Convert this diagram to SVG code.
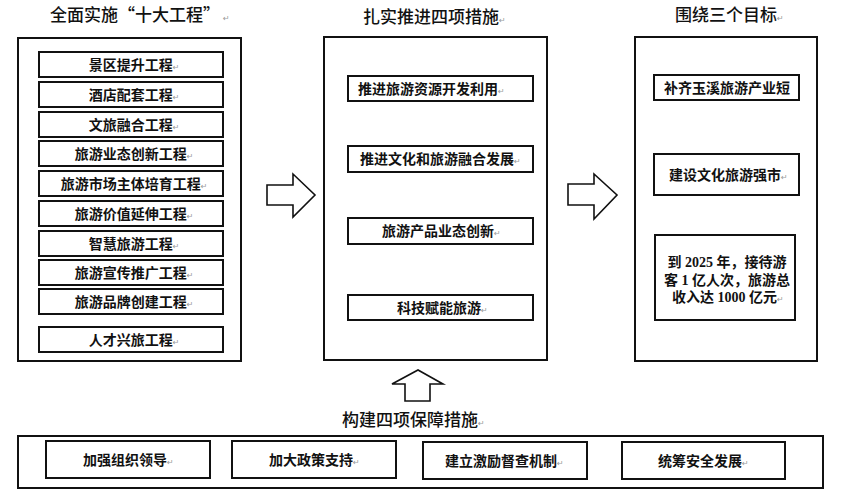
<svg xmlns="http://www.w3.org/2000/svg" width="843" height="496" viewBox="0 0 843 496">
<style>
.bg{fill:#fff}
.outer{fill:#fff;stroke:#111;stroke-width:2}
.inner{fill:#fff;stroke:#111;stroke-width:2}
.title{font-family:"Noto Sans CJK SC","Noto Sans CJK JP",sans-serif;font-size:17px;font-weight:500;fill:#111}
.t{font-family:"Liberation Serif","Noto Sans CJK SC",serif;font-size:14px;font-weight:bold;fill:#111}
.rm{font-family:"DejaVu Sans",sans-serif;font-size:8px;font-weight:normal;fill:#999}
.arrow{fill:#fff;stroke:#111;stroke-width:1.6;stroke-linejoin:miter}
</style>
<rect class="bg" x="0" y="0" width="843" height="496"/>

<g id="col-left">
  <text class="title" x="50" y="21">全面实施“十大工程”<tspan class="rm" dx="3">↵</tspan></text>
  <rect class="outer" x="18" y="38" width="223" height="323"/>
  <g id="l1"><rect class="inner" x="39" y="52" width="184" height="25"/><text class="t" x="134" y="70" text-anchor="middle">景区提升工程<tspan class="rm">↵</tspan></text></g>
  <g id="l2"><rect class="inner" x="39" y="82" width="184" height="25"/><text class="t" x="134" y="100" text-anchor="middle">酒店配套工程<tspan class="rm">↵</tspan></text></g>
  <g id="l3"><rect class="inner" x="39" y="112" width="184" height="25"/><text class="t" x="134" y="130" text-anchor="middle">文旅融合工程<tspan class="rm">↵</tspan></text></g>
  <g id="l4"><rect class="inner" x="39" y="141" width="184" height="25"/><text class="t" x="134" y="159" text-anchor="middle">旅游业态创新工程<tspan class="rm">↵</tspan></text></g>
  <g id="l5"><rect class="inner" x="39" y="171" width="184" height="25"/><text class="t" x="134" y="189" text-anchor="middle">旅游市场主体培育工程<tspan class="rm">↵</tspan></text></g>
  <g id="l6"><rect class="inner" x="39" y="201" width="184" height="25"/><text class="t" x="134" y="219" text-anchor="middle">旅游价值延伸工程<tspan class="rm">↵</tspan></text></g>
  <g id="l7"><rect class="inner" x="39" y="231" width="184" height="25"/><text class="t" x="134" y="249" text-anchor="middle">智慧旅游工程<tspan class="rm">↵</tspan></text></g>
  <g id="l8"><rect class="inner" x="39" y="260" width="184" height="25"/><text class="t" x="134" y="278" text-anchor="middle">旅游宣传推广工程<tspan class="rm">↵</tspan></text></g>
  <g id="l9"><rect class="inner" x="39" y="289" width="184" height="25"/><text class="t" x="134" y="307" text-anchor="middle">旅游品牌创建工程<tspan class="rm">↵</tspan></text></g>
  <g id="l10"><rect class="inner" x="39" y="327" width="184" height="25"/><text class="t" x="134" y="345" text-anchor="middle">人才兴旅工程<tspan class="rm">↵</tspan></text></g>
</g>

<g id="col-mid">
  <text class="title" x="363" y="23">扎实推进四项措施<tspan class="rm">↵</tspan></text>
  <rect class="outer" x="324" y="37" width="223" height="323"/>
  <g id="m1"><rect class="inner" x="348" y="76" width="185" height="25"/><text class="t" x="358" y="94">推进旅游资源开发利用<tspan class="rm">↵</tspan></text></g>
  <g id="m2"><rect class="inner" x="348" y="146" width="185" height="26"/><text class="t" x="360" y="164">推进文化和旅游融合发展<tspan class="rm">↵</tspan></text></g>
  <g id="m3"><rect class="inner" x="348" y="218" width="185" height="26"/><text class="t" x="382" y="236">旅游产品业态创新<tspan class="rm">↵</tspan></text></g>
  <g id="m4"><rect class="inner" x="348" y="295" width="185" height="25"/><text class="t" x="397" y="313">科技赋能旅游<tspan class="rm">↵</tspan></text></g>
</g>

<g id="col-right">
  <text class="title" x="675" y="21">围绕三个目标<tspan class="rm">↵</tspan></text>
  <rect class="outer" x="635" y="37" width="182" height="324"/>
  <g id="r1"><rect class="inner" x="654" y="75" width="145" height="25"/><text class="t" x="664" y="93">补齐玉溪旅游产业短</text></g>
  <g id="r2"><rect class="inner" x="654" y="154" width="145" height="41"/><text class="t" x="669" y="180">建设文化旅游强市<tspan class="rm">↵</tspan></text></g>
  <g id="r3"><rect class="inner" x="655" y="235" width="140" height="85"/>
    <text class="t" x="727" y="267" text-anchor="middle">到 2025 年，接待游</text>
    <text class="t" x="727" y="285" text-anchor="middle">客 1 亿人次，旅游总</text>
    <text class="t" x="672" y="302">收入达 1000 亿元<tspan class="rm">↵</tspan></text>
  </g>
</g>

<g id="col-bottom">
  <text class="title" x="342" y="426">构建四项保障措施<tspan class="rm">↵</tspan></text>
  <rect class="outer" x="18" y="436" width="805" height="52"/>
  <g id="b1"><rect class="inner" x="46" y="441" width="164" height="37"/><text class="t" x="83" y="465">加强组织领导<tspan class="rm">↵</tspan></text></g>
  <g id="b2"><rect class="inner" x="232" y="441" width="164" height="37"/><text class="t" x="269" y="465">加大政策支持<tspan class="rm">↵</tspan></text></g>
  <g id="b3"><rect class="inner" x="423" y="442" width="164" height="37"/><text class="t" x="445" y="466">建立激励督查机制<tspan class="rm">↵</tspan></text></g>
  <g id="b4"><rect class="inner" x="622" y="442" width="163" height="37"/><text class="t" x="658" y="466">统筹安全发展<tspan class="rm">↵</tspan></text></g>
</g>

<g id="connectors">
  <polygon class="arrow" points="267,185 293,185 293,174 315,195 293,217 293,205 267,205"/>
  <polygon class="arrow" points="568,184 594,184 594,174 617,195 594,219 594,205 568,205"/>
  <polygon class="arrow" points="405,401 405,384 392,384 418,370 443,384 430,384 430,401"/>
</g>
</svg>
